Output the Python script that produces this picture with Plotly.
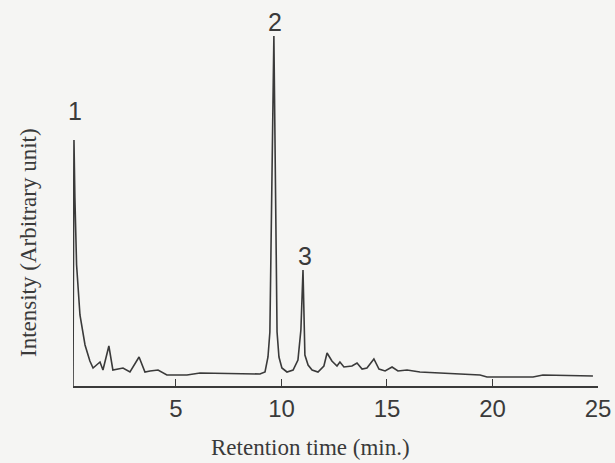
import plotly.graph_objects as go

# Retention time (min) and intensity (arbitrary units)
time_min = [0.12, 0.166, 0.21, 0.29, 0.45, 0.69, 0.92, 1.07, 1.40, 1.54, 1.82, 2.01, 2.49, 2.82,
            3.25, 3.53, 3.77, 4.15, 4.57, 5.52, 6.14, 8.03, 8.98, 9.22, 9.36, 9.45, 9.64, 9.79,
            9.88, 10.02, 10.26, 10.55, 10.78, 10.92, 11.02, 11.11, 11.26, 11.45, 11.73, 12.01,
            12.16, 12.39, 12.63, 12.77, 12.96, 13.34, 13.58, 13.82, 14.05, 14.38, 14.62, 14.91,
            15.24, 15.52, 15.95, 16.56, 17.51, 18.46, 19.41, 19.74, 20.69, 21.92, 22.39, 23.81, 24.76]
intensity = [0, 246, 188, 121, 71, 41, 25, 18, 24, 16, 40, 16, 18, 14,
             29, 14, 15, 16, 11, 11, 13, 12, 12, 14, 29, 54, 350, 54,
             29, 18, 14, 16, 26, 56, 116, 31, 21, 16, 14, 20,
             33, 25, 20, 24, 19, 20, 23, 17, 18, 27, 17, 15,
             19, 15, 16, 14, 13, 12, 11, 9, 9, 9, 11, 10, 10]

peak_labels = ["1", "2", "3"]
peak_label_time = [0.22, 9.69, 11.11]
peak_label_int = [275, 364, 130]

tick_vals = [5, 10, 15, 20, 25]
tick_text = ["5", "10", "15", "20", "25"]

ink = "#3a3a3a"
bg = "#f5f5f3"

fig = go.Figure()
fig.add_trace(go.Scatter(x=time_min, y=intensity, mode="lines",
                         line=dict(color=ink, width=1.6), showlegend=False,
                         hoverinfo="skip"))

for lab, tx, ty in zip(peak_labels, peak_label_time, peak_label_int):
    fig.add_annotation(x=tx, y=ty, text=lab, showarrow=False, xanchor="center",
                       yanchor="middle",
                       font=dict(family="Liberation Sans", size=25, color=ink))

fig.add_annotation(xref="paper", yref="paper", x=(310 - 73) / 525, y=-(447 - 386) / 386,
                   text="Retention time (min.)", showarrow=False, xanchor="center",
                   yanchor="middle",
                   font=dict(family="Liberation Serif", size=23, color=ink))
fig.add_annotation(xref="paper", yref="paper", x=-(73 - 28) / 525, y=(386 - 243) / 386,
                   text="Intensity (Arbitrary unit)", showarrow=False, textangle=-90,
                   xanchor="center", yanchor="middle",
                   font=dict(family="Liberation Serif", size=23, color=ink))

fig.update_layout(
    width=615, height=463,
    margin=dict(l=73, r=17, t=0, b=77),
    paper_bgcolor=bg, plot_bgcolor=bg,
    xaxis=dict(range=[0.12, 25], tickvals=tick_vals, ticktext=tick_text,
               showgrid=False, zeroline=False, showline=True, linecolor=ink,
               linewidth=1.6, ticks="inside", ticklen=7, tickwidth=1.4,
               tickcolor=ink,
               tickfont=dict(family="Liberation Sans", size=24, color=ink)),
    yaxis=dict(range=[0, 386], showgrid=False, zeroline=False, showline=False,
               showticklabels=False, ticks=""),
)

fig.write_html("out.html")
